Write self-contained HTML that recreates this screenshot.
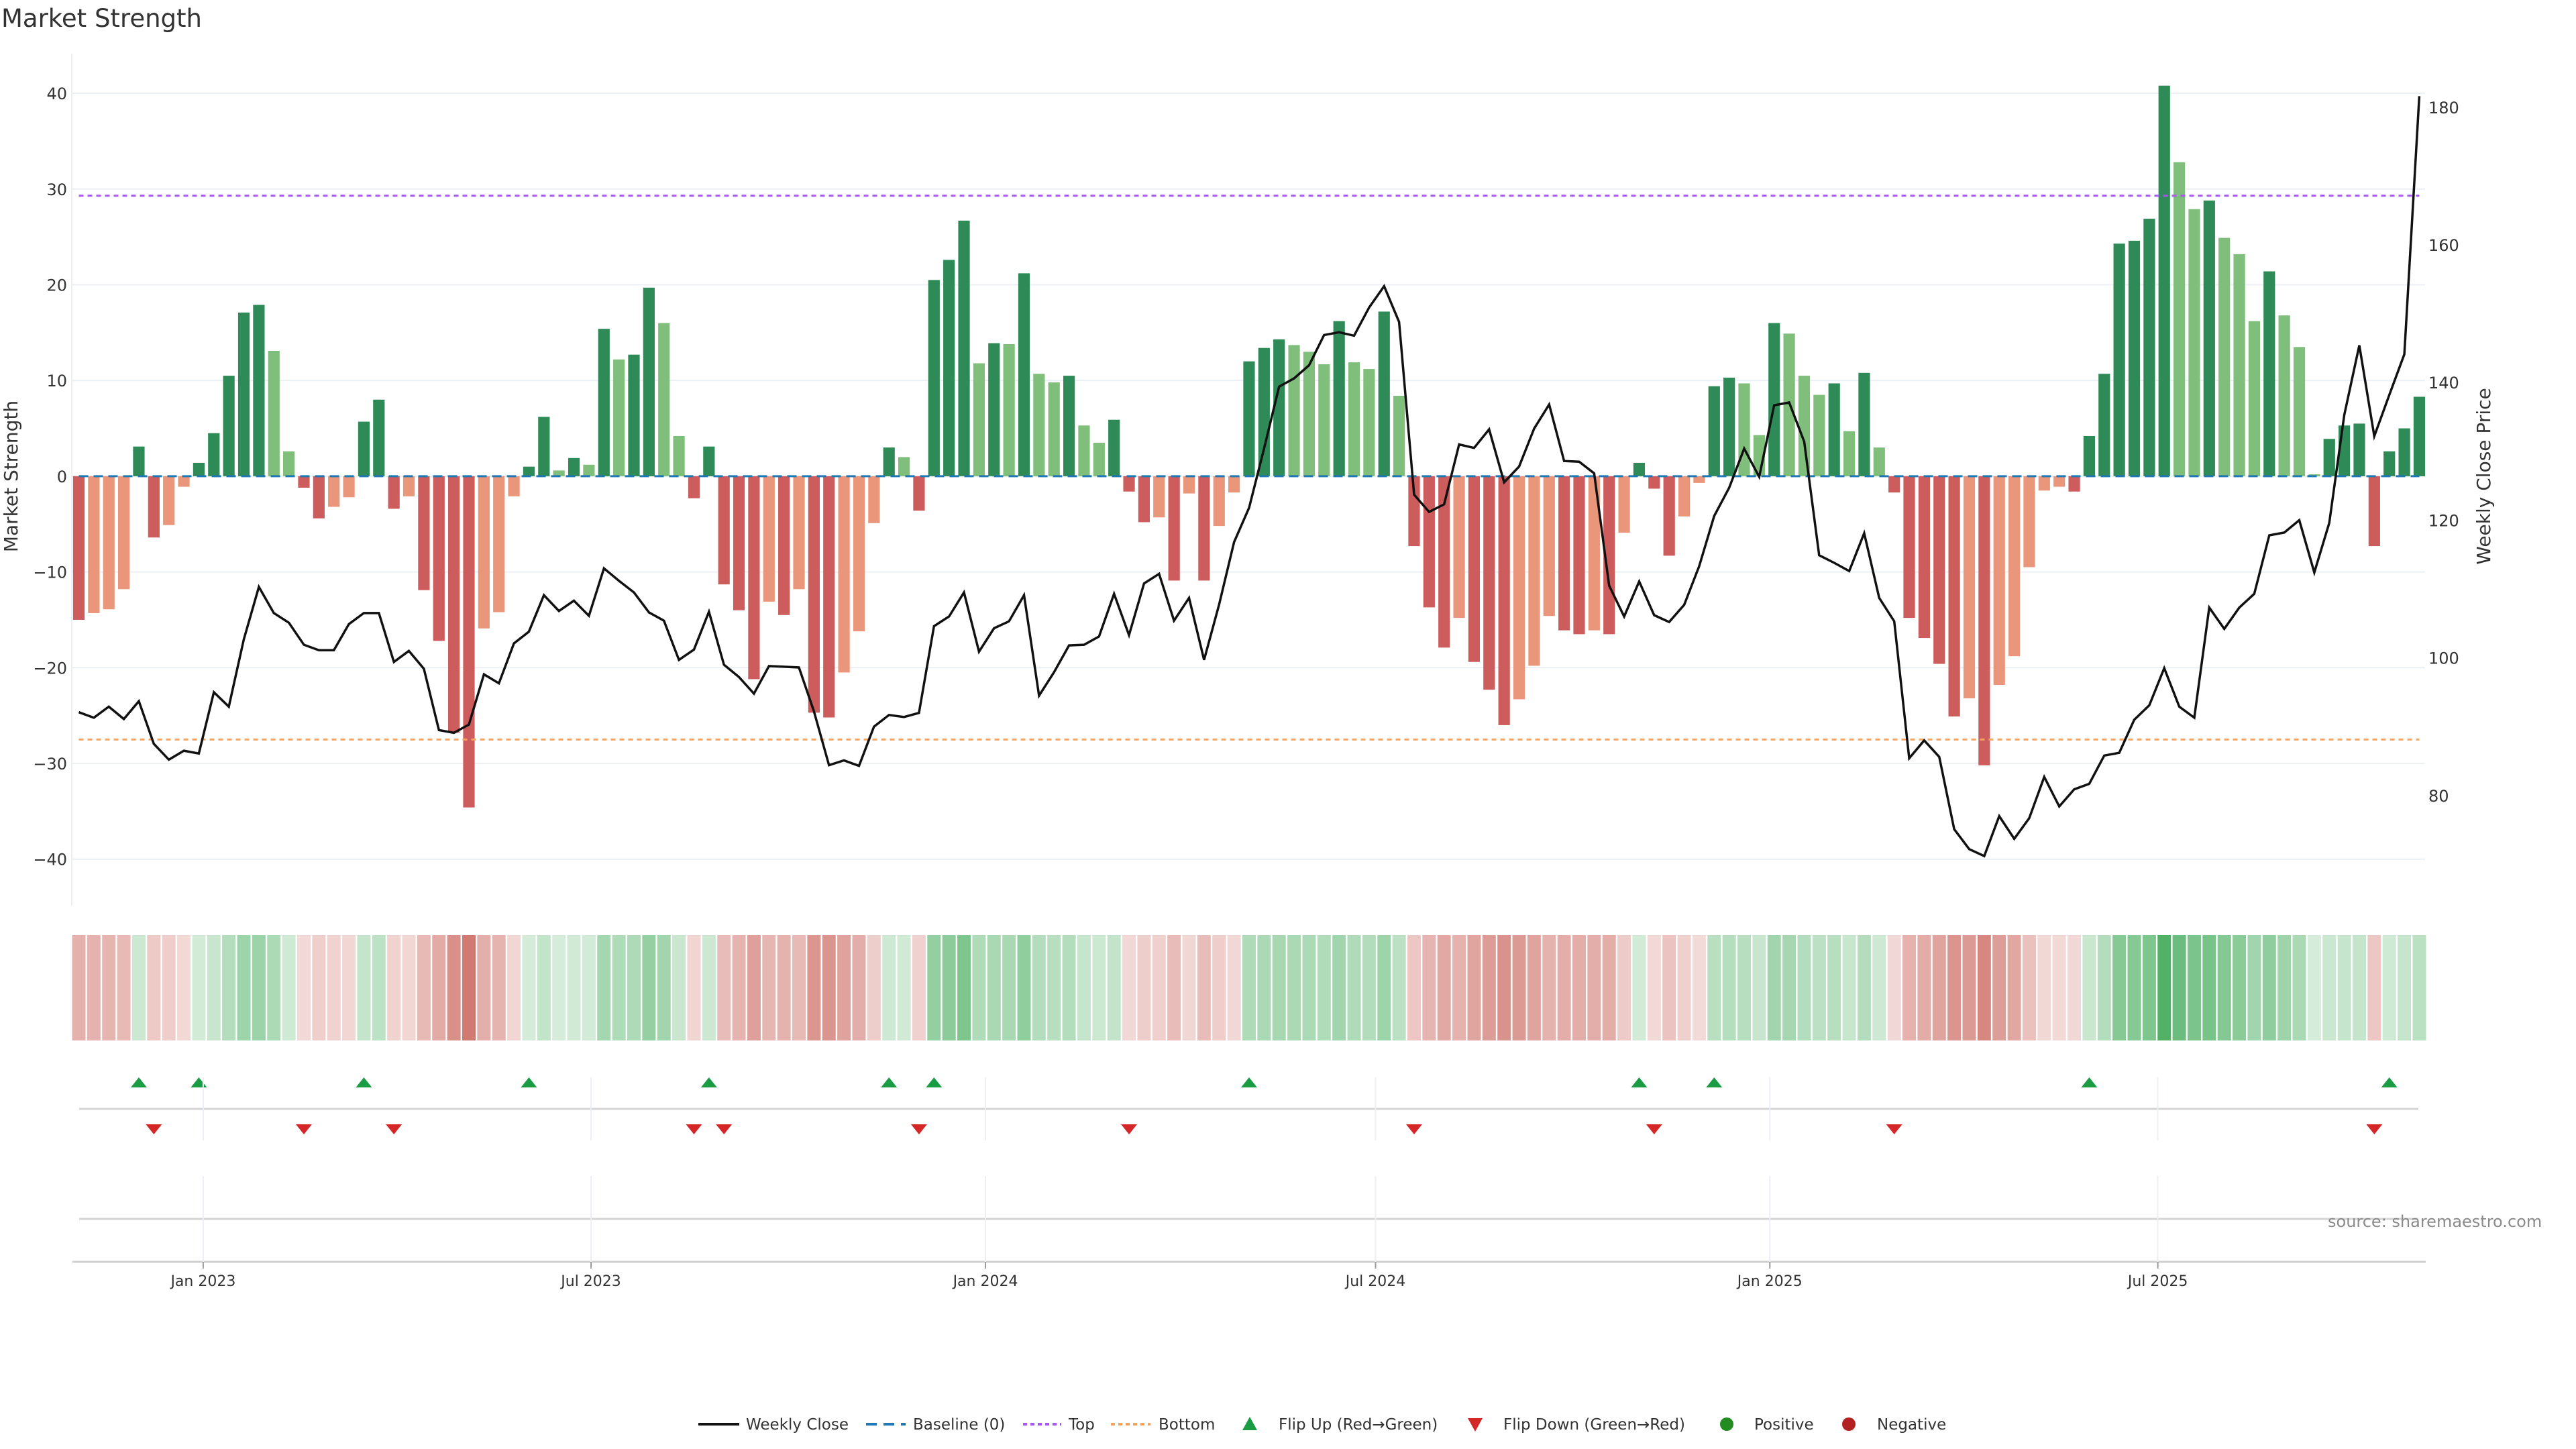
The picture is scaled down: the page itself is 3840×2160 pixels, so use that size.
<!DOCTYPE html>
<html><head><meta charset="utf-8"><style>
html,body{margin:0;padding:0;background:#fff;}
svg{display:block;font-family:"DejaVu Sans","Liberation Sans",sans-serif;}
</style></head><body>
<svg id="chart" width="3840" height="2160" viewBox="0 0 3840 2160" xmlns="http://www.w3.org/2000/svg">
<text x="2" y="40" font-size="37" fill="#333">Market Strength</text>
<g id="grid"></g>
<g id="bars"></g>
<g id="refs"></g>
<g id="price"></g>
<g id="axes"></g>
<g id="heat"></g>
<g id="flips"></g>
<g id="bottom"></g>
<text transform="translate(26,710) rotate(-90)" text-anchor="middle" font-size="28" fill="#333">Market Strength</text>
<text transform="translate(3712,710) rotate(-90)" text-anchor="middle" font-size="28" fill="#333">Weekly Close Price</text>
<text x="3470" y="1829" font-size="24" fill="#8a8a8a">source: sharemaestro.com</text>
<g font-size="23" fill="#333">
  <g><line x1="1041" y1="2123" x2="1102" y2="2123" stroke="#111" stroke-width="4"/><text x="1112" y="2131">Weekly Close</text></g>
  <g><line x1="1291" y1="2123" x2="1350" y2="2123" stroke="#1f77b4" stroke-width="4" stroke-dasharray="16,10"/><text x="1361" y="2131">Baseline (0)</text></g>
  <g><line x1="1525" y1="2123" x2="1582" y2="2123" stroke="#a855f7" stroke-width="4" stroke-dasharray="6,5"/><text x="1593" y="2131">Top</text></g>
  <g><line x1="1656" y1="2123" x2="1715" y2="2123" stroke="#f4a460" stroke-width="4" stroke-dasharray="6,5"/><text x="1727" y="2131">Bottom</text></g>
  <g><polygon points="1863,2112 1874,2132 1852,2132" fill="#1a9c45"/><text x="1906" y="2131">Flip Up (Red→Green)</text></g>
  <g><polygon points="2188,2114 2210,2114 2199,2134" fill="#d62728"/><text x="2241" y="2131">Flip Down (Green→Red)</text></g>
  <g><circle cx="2574" cy="2123" r="10" fill="#228b22"/><text x="2615" y="2131">Positive</text></g>
  <g><circle cx="2756" cy="2123" r="10" fill="#b22222"/><text x="2798" y="2131">Negative</text></g>
</g>
</svg>
<script>
const strength = [-15.0,-14.3,-13.9,-11.8,3.1,-6.4,-5.1,-1.1,1.4,4.5,10.5,17.1,17.9,13.1,2.6,-1.2,-4.4,-3.2,-2.2,5.7,8.0,-3.4,-2.1,-11.9,-17.2,-26.8,-34.6,-15.9,-14.2,-2.1,1.0,6.2,0.6,1.9,1.2,15.4,12.2,12.7,19.7,16.0,4.2,-2.3,3.1,-11.3,-14.0,
-21.2,-13.1,-14.5,-11.8,-24.7,-25.2,-20.5,-16.2,-4.9,3.0,2.0,-3.6,20.5,22.6,26.7,11.8,13.9,13.8,21.2,10.7,9.8,10.5,5.3,3.5,5.9,-1.6,-4.8,-4.3,-10.9,-1.8,-10.9,-5.2,-1.7,12.0,13.4,14.3,13.7,13.0,11.7,16.2,11.9,11.2,
17.2,8.4,-7.3,-13.7,-17.9,-14.8,-19.4,-22.3,-26.0,-23.3,-19.8,-14.6,-16.1,-16.5,-16.1,-16.5,-5.9,1.4,-1.3,-8.3,-4.2,-0.7,9.4,10.3,9.7,4.3,16.0,14.9,10.5,8.5,9.7,4.7,10.8,3.0,-1.7,-14.8,-16.9,-19.6,
-25.1,-23.2,-30.2,-21.8,-18.8,-9.5,-1.5,-1.1,-1.6,4.2,10.7,24.3,24.6,26.9,40.8,32.8,27.9,28.8,24.9,23.2,16.2,21.4,16.8,13.5,0.2,3.9,5.3,5.5,-7.3,2.6,5.0,8.3];
const price = [92.1,91.3,92.9,91.1,93.7,87.5,85.2,86.5,86.1,95.0,92.9,102.7,110.3,106.5,105.1,101.9,101.1,101.1,104.9,106.5,106.5,99.4,101.0,98.4,89.5,89.1,90.3,97.6,96.3,102.1,103.8,109.1,106.8,108.3,106.1,113.0,111.2,109.5,106.6,105.4,99.7,101.2,106.7,99.0,97.2,
94.8,98.8,98.7,98.6,92.2,84.4,85.1,84.3,90.0,91.7,91.4,92.0,104.6,106.0,109.5,100.9,104.3,105.3,109.1,94.5,97.9,101.8,101.9,103.1,109.3,103.3,110.8,112.2,105.4,108.7,99.7,107.7,116.8,121.8,130.4,139.4,140.6,142.5,146.9,147.3,146.8,150.9,
154.0,148.8,123.7,121.2,122.3,131.0,130.5,133.2,125.5,127.8,133.3,136.8,128.6,128.5,126.8,110.5,106.0,111.1,106.2,105.2,107.7,113.3,120.6,124.7,130.4,126.3,136.7,137.1,131.4,114.9,113.8,112.6,118.1,108.7,105.3,85.4,88.0,85.6,
75.1,72.2,71.2,77.0,73.7,76.7,82.7,78.4,80.9,81.7,85.8,86.2,91.0,93.1,98.5,92.9,91.3,107.3,104.2,107.3,109.3,117.8,118.2,120.0,112.4,119.6,135.3,145.4,132.2,138.2,144.1,181.6];
const topLevel = 29.3;
const bottomLevel = -27.5;
const leftTicks = [40,30,20,10,0,-10,-20,-30,-40];
const rightTicks = [80,100,120,140,160,180];
const dateTickLabels = ["Jan 2023","Jul 2023","Jan 2024","Jul 2024","Jan 2025","Jul 2025"];
const dateTickWeeks = [8.29,34.14,60.43,86.43,112.71,138.57];

const NS="http://www.w3.org/2000/svg";
function mk(tag,attrs,parent){const e=document.createElementNS(NS,tag);for(const k in attrs)e.setAttribute(k,attrs[k]);parent.appendChild(e);return e;}
const PITCH=22.365, X0=117.5, BW=17.2;
function xScale(i){return X0+i*PITCH;}
function yScale(v){return 709.9-v*14.27;}
function pScale(p){return 159.8+(180-p)*10.26;}
const PL=107, PR=3615;

const grid=document.getElementById('grid');
const axes=document.getElementById('axes');
leftTicks.forEach(t=>{
  const l=mk('line',{x1:PL,x2:PR,y1:yScale(t),y2:yScale(t),stroke:'#eceff3','stroke-width':2},grid);
  
  
  const tx=mk('text',{x:100,y:yScale(t)+9,'text-anchor':'end','font-size':24,fill:'#333'},axes);
  tx.textContent=(t<0?'\u2212'+(-t):String(t));
  
  
});
const spine=mk('line',{x1:PL,x2:PL,y1:80,y2:1350,stroke:'#eceff3','stroke-width':2},grid);


rightTicks.forEach(t=>{
  const tx=mk('text',{x:3620,y:pScale(t)+9,'font-size':24,fill:'#333'},axes);
  tx.textContent=String(t);
  
  
});

const bars=document.getElementById('bars');
const heat=document.getElementById('heat');
const maxAbs=Math.max(...strength.map(Math.abs));
strength.forEach((v,i)=>{
  const prev=i>0?strength[i-1]:0;
  const strong=(i===0)||(Math.sign(v)!==Math.sign(prev))||Math.abs(v)>=Math.abs(prev);
  const col=v>=0?(strong?'#2e8b57':'#7fbf7b'):(strong?'#cd5c5c':'#e9967a');
  const y0=yScale(0), y1=yScale(v);
  const r=mk('rect',{x:xScale(i)-BW/2,y:Math.min(y0,y1),width:BW,height:Math.max(1,Math.abs(y1-y0)),fill:col},bars);
  
  
  const a=0.22+0.72*Math.min(1,Math.abs(v)/maxAbs);
  const base=v>=0?[70,172,92]:[200,95,85];
  const c=base.map(b=>Math.round(255-(255-b)*a));
  const h=mk('rect',{x:xScale(i)-10,y:1394,width:20,height:157,fill:'rgb('+c.join(',')+')'},heat);
  
  
});

const refs=document.getElementById('refs');
const xa=xScale(0), xb=xScale(strength.length-1);
const bl=mk('line',{x1:xa,x2:xb,y1:yScale(0),y2:yScale(0),stroke:'#1f77b4','stroke-width':3,'stroke-dasharray':'14,8'},refs);


const tl=mk('line',{x1:xa,x2:xb,y1:yScale(topLevel),y2:yScale(topLevel),stroke:'#a855f7','stroke-width':3,'stroke-dasharray':'7,6'},refs);


const btl=mk('line',{x1:xa,x2:xb,y1:yScale(bottomLevel),y2:yScale(bottomLevel),stroke:'#f4a460','stroke-width':3,'stroke-dasharray':'7,6'},refs);



const pg=document.getElementById('price');
const pts=price.map((p,i)=>xScale(i).toFixed(1)+','+pScale(p).toFixed(1)).join(' ');
const pl=mk('polyline',{points:pts,fill:'none',stroke:'#111','stroke-width':3.5,'stroke-linejoin':'miter'},pg);



const flips=document.getElementById('flips');
const sep=mk('line',{x1:118,x2:3605,y1:1653,y2:1653,stroke:'#d4d4d4','stroke-width':3},flips);


for(let i=1;i<strength.length;i++){
  const a=strength[i-1], b=strength[i];
  const x=xScale(i);
  if(a<0&&b>=0){
    const t=mk('polygon',{points:`${x},1606 ${x+12},1621 ${x-12},1621`,fill:'#1a9c45'},flips);
    
    
  } else if(a>=0&&b<0){
    const t=mk('polygon',{points:`${x-12},1676 ${x+12},1676 ${x},1691`,fill:'#d62728'},flips);
    
    
  }
}

const bottom=document.getElementById('bottom');
const l2=mk('line',{x1:118,x2:3605,y1:1817,y2:1817,stroke:'#d4d4d4','stroke-width':3},bottom);


const ax=mk('line',{x1:108,x2:3616,y1:1881,y2:1881,stroke:'#d0d0d0','stroke-width':3},bottom);


dateTickWeeks.forEach((w,k)=>{
  const x=xScale(w);
  const g1=mk('line',{x1:x,x2:x,y1:1606,y2:1700,stroke:'#eceff3','stroke-width':2},bottom);
  
  
  const g2=mk('line',{x1:x,x2:x,y1:1753,y2:1881,stroke:'#eceff3','stroke-width':2},bottom);
  
  
  const tk=mk('line',{x1:x,x2:x,y1:1881,y2:1891,stroke:'#999','stroke-width':2},bottom);
  
  
  const tx=mk('text',{x:x,y:1917,'text-anchor':'middle','font-size':22,fill:'#333'},bottom);
  tx.textContent=dateTickLabels[k];
  
  
});
</script>
</body></html>
